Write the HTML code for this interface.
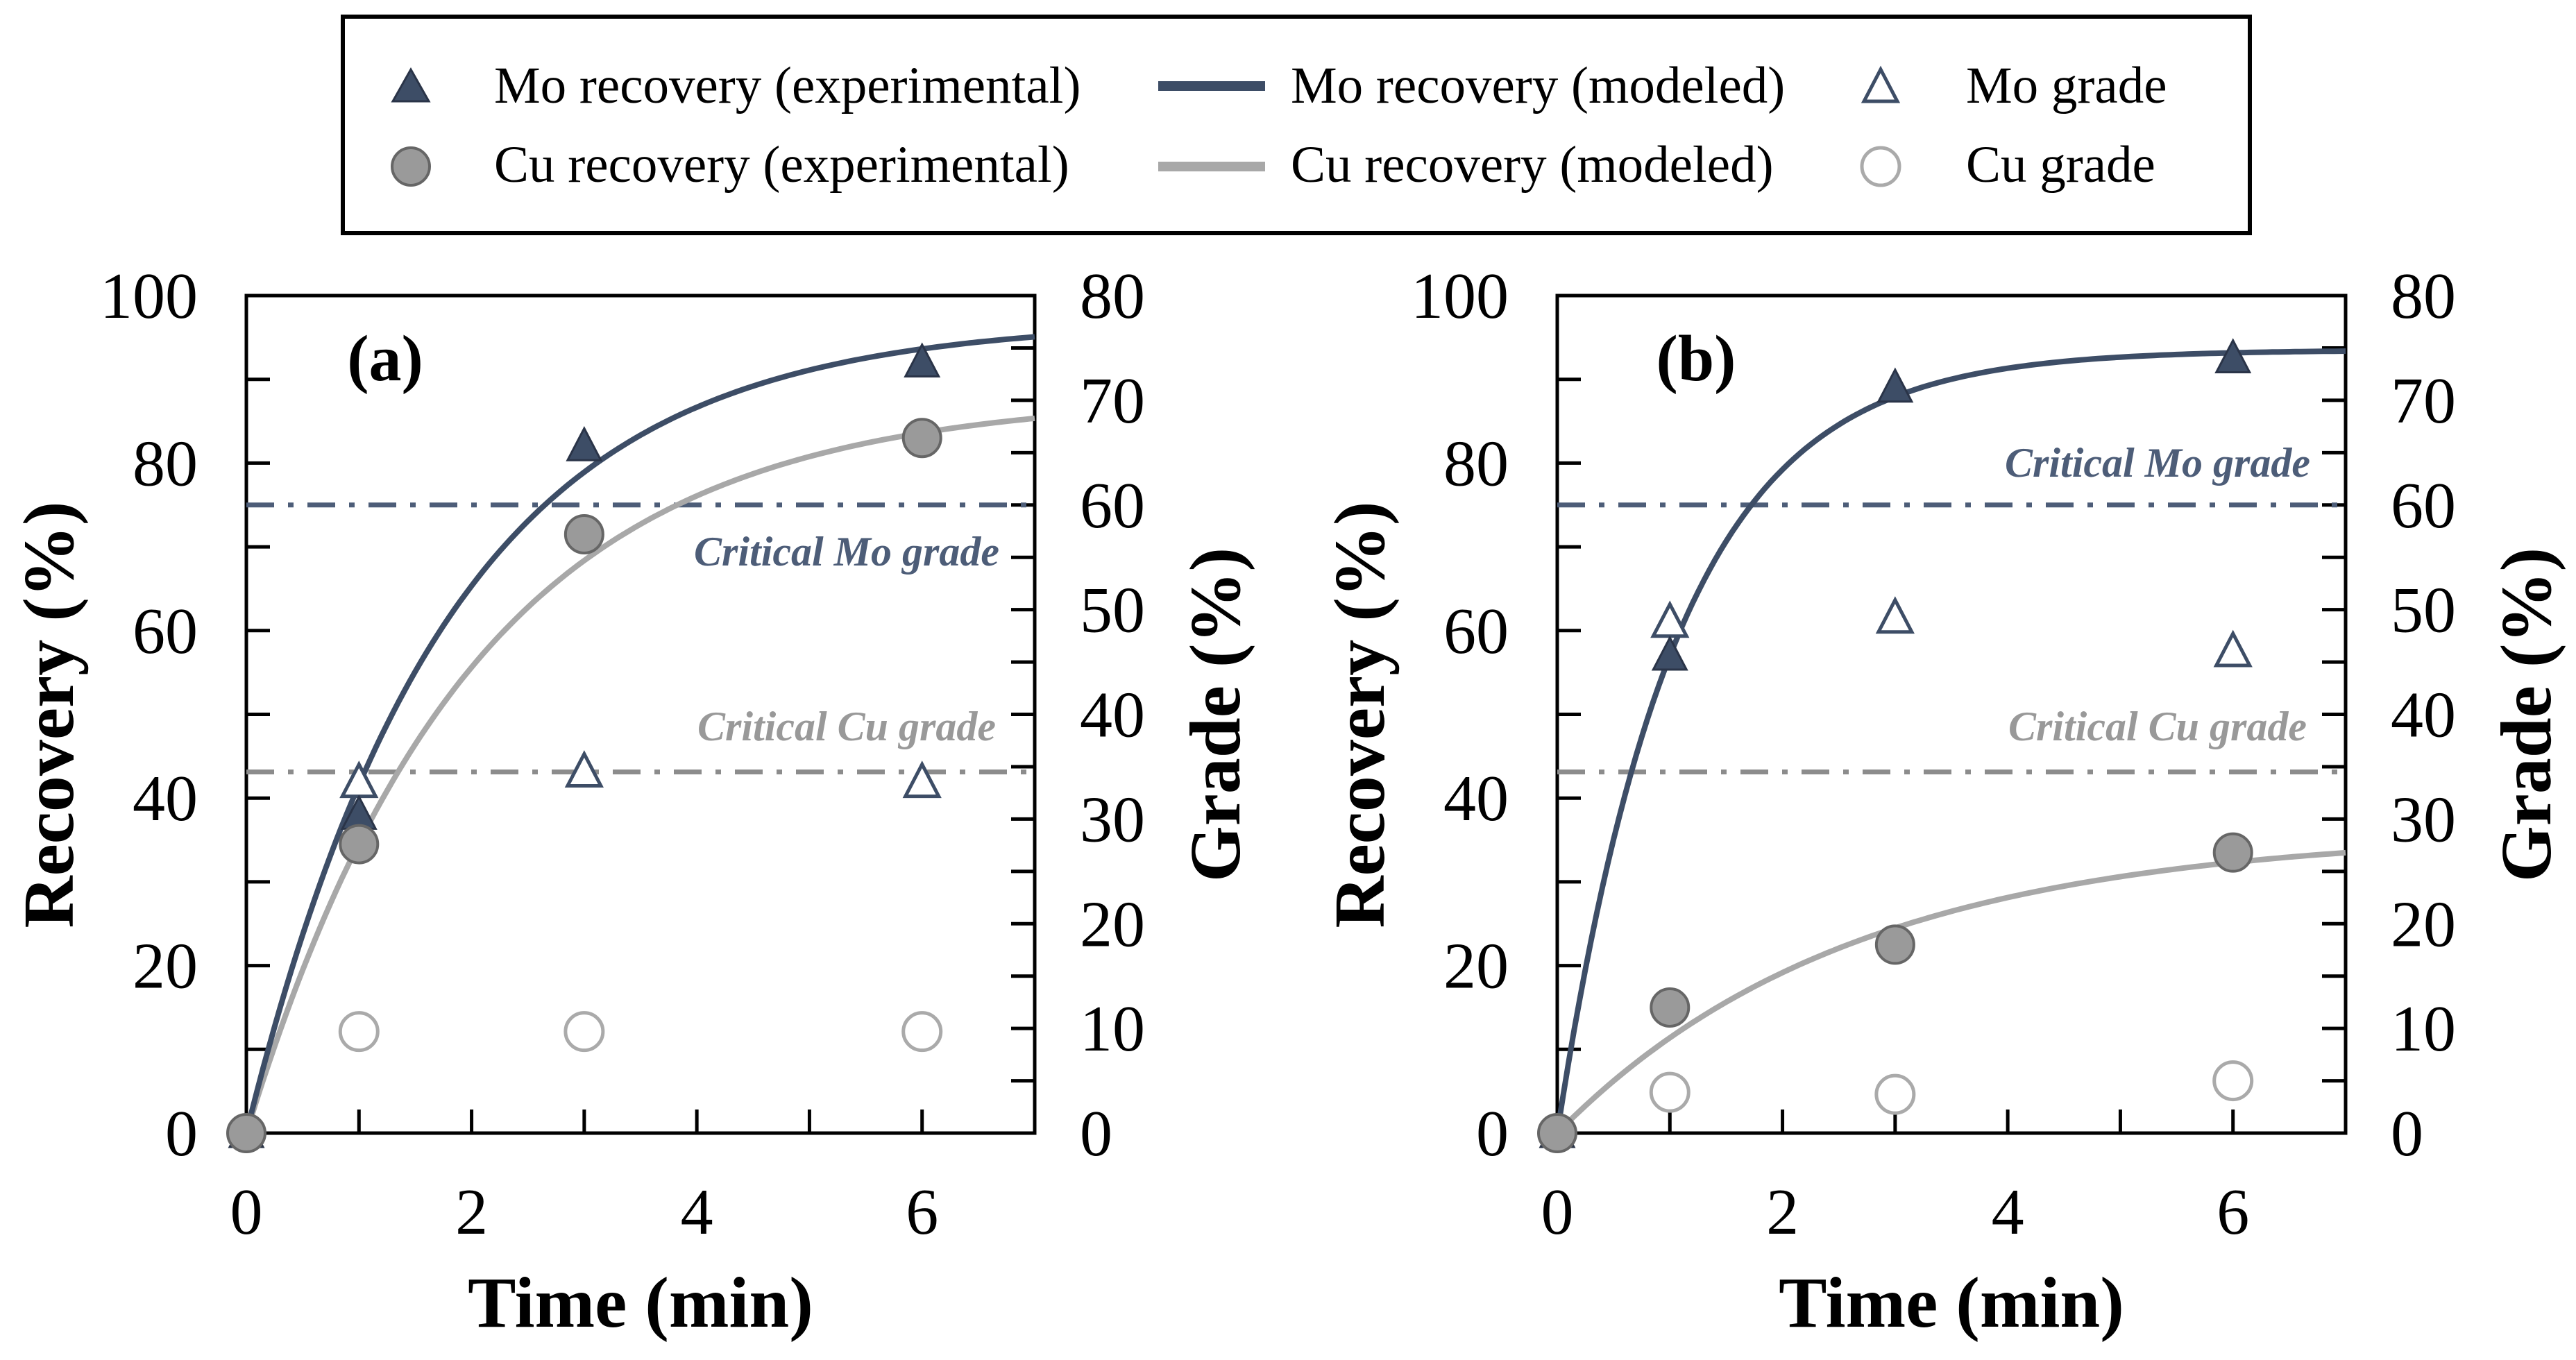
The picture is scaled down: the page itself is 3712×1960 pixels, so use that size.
<!DOCTYPE html>
<html><head><meta charset="utf-8"><style>
html,body{margin:0;padding:0;background:#fff;}
svg{display:block;font-family:"Liberation Serif",serif;}
</style></head><body>
<svg id="chart" width="3712" height="1960" viewBox="0 0 3712 1960" xmlns="http://www.w3.org/2000/svg">
<g>
  <rect x="494" y="24" width="2748" height="312" fill="#fff" stroke="#000" stroke-width="6"/>
  <g>
    <polygon points="592,100 566,146 618,146" fill="#3d4d66" stroke="#2a3448" stroke-width="3"/>
    <text x="712" y="148" font-size="75">Mo recovery  (experimental)</text>
  </g>
  <g>
    <circle cx="592" cy="240" r="27" fill="#9a9a9a" stroke="#666" stroke-width="4"/>
    <text x="712" y="262" font-size="75">Cu recovery  (experimental)</text>
  </g>
  <g>
    <line x1="1669" y1="124" x2="1823" y2="124" stroke="#3d4d66" stroke-width="14"/>
    <text x="1860" y="148" font-size="75">Mo recovery  (modeled)</text>
  </g>
  <g>
    <line x1="1669" y1="240" x2="1823" y2="240" stroke="#a8a8a8" stroke-width="14"/>
    <text x="1860" y="262" font-size="75">Cu recovery  (modeled)</text>
  </g>
  <g>
    <polygon points="2710,100 2686,146 2734,146" fill="#fff" stroke="#3d4d66" stroke-width="5"/>
    <text x="2833" y="148" font-size="75">Mo grade</text>
  </g>
  <g>
    <circle cx="2710" cy="240" r="27" fill="#fff" stroke="#aaa" stroke-width="5"/>
    <text x="2833" y="262" font-size="75">Cu grade</text>
  </g>
</g>
<g id="panelA"></g>
<g id="panelB"></g>
</svg>
<script>
// Panel (a) data
const timesA = [0, 1, 3, 6];
const moRecA = [0, 38, 82, 92];
const cuRecA = [0, 34.5, 71.5, 83];
const gradeTimesA = [1, 3, 6];
const moGradeA = [33.5, 34.5, 33.5];
const cuGradeA = [9.7, 9.7, 9.7];
const moModelA = [97, 0.56];   // [Rmax, k]
const cuModelA = [88, 0.5];
const critA = [60, 34.5];      // [Mo, Cu] critical grade
// Panel (b) data
const timesB = [0, 1, 3, 6];
const moRecB = [0, 57, 89, 92.5];
const cuRecB = [0, 15, 22.5, 33.5];
const gradeTimesB = [1, 3, 6];
const moGradeB = [48.8, 49.2, 46];
const cuGradeB = [3.9, 3.7, 5];
const moModelB = [93.5, 0.94];
const cuModelB = [36, 0.38];
const critB = [60, 34.5];
// Axis ticks
const xTicks = [0, 2, 4, 6];
const leftTicks = [0, 20, 40, 60, 80, 100];
const rightTicks = [0, 10, 20, 30, 40, 50, 60, 70, 80];

const NS = "http://www.w3.org/2000/svg";
const MO = "#3d4d66", CU = "#a8a8a8";
function mk(parent, tag, attrs, text) {
  const e = document.createElementNS(NS, tag);
  for (const k in attrs) e.setAttribute(k, attrs[k]);
  if (text !== undefined) e.textContent = text;
  parent.appendChild(e);
  return e;
}

function panel(g, L, label, d, critLabelPos) {
  const R = L + 1136, T = 426, B = 1633;
  const xS = t => L + (t / 7) * (R - L);
  const yL = v => B - (v / 100) * (B - T);
  const yR = v => B - (v / 80) * (B - T);
  const fr = mk(g, "rect", {x: L, y: T, width: R - L, height: B - T, fill: "none", stroke: "#000", "stroke-width": 5});
  
  
  for (let t = 1; t <= 6; t++) {
    const tk = mk(g, "line", {x1: xS(t), x2: xS(t), y1: B, y2: B - 34, stroke: "#000", "stroke-width": 5});
    
    
  }
  xTicks.forEach(t => {
    const tl = mk(g, "text", {x: xS(t), y: 1778, "font-size": 94, "text-anchor": "middle"}, String(t));
    
    
  });
  for (let v = 10; v < 100; v += 10) {
    const tk = mk(g, "line", {x1: L, x2: L + 34, y1: yL(v), y2: yL(v), stroke: "#000", "stroke-width": 5});
    
    
  }
  leftTicks.forEach(v => {
    const tl = mk(g, "text", {x: L - 70, y: yL(v) + 32, "font-size": 94, "text-anchor": "end"}, String(v));
    
    
  });
  for (let v = 5; v < 80; v += 5) {
    const tk = mk(g, "line", {x1: R, x2: R - 34, y1: yR(v), y2: yR(v), stroke: "#000", "stroke-width": 5});
    
    
  }
  rightTicks.forEach(v => {
    const tl = mk(g, "text", {x: R + 65, y: yR(v) + 32, "font-size": 94, "text-anchor": "start"}, String(v));
    
    
  });
  const xt = mk(g, "text", {x: (L + R) / 2, y: 1912, "font-size": 104, "font-weight": "bold", "text-anchor": "middle"}, "Time  (min)");
  
  
  const yt = mk(g, "text", {x: 0, y: 0, "font-size": 104, "font-weight": "bold", "text-anchor": "middle", transform: `translate(${L - 250},1030) rotate(-90)`}, "Recovery  (%)");
  
  
  const gt = mk(g, "text", {x: 0, y: 0, "font-size": 104, "font-weight": "bold", "text-anchor": "middle", transform: `translate(${R + 295},1030) rotate(-90)`}, "Grade  (%)");
  
  
  const pl = mk(g, "text", {x: L + 200, y: 548, "font-size": 94, "font-weight": "bold", "text-anchor": "middle"}, label);
  
  
  const cm = mk(g, "line", {x1: L, x2: R, y1: yR(d.crit[0]), y2: yR(d.crit[0]), stroke: "#4d5d78", "stroke-width": 7, "stroke-dasharray": "40 20 8 20"});
  
  
  const cc = mk(g, "line", {x1: L, x2: R, y1: yR(d.crit[1]), y2: yR(d.crit[1]), stroke: "#8c8c8c", "stroke-width": 7, "stroke-dasharray": "40 20 8 20"});
  
  
  const cml = mk(g, "text", {x: L + critLabelPos[0], y: critLabelPos[1], "font-size": 60, "font-style": "italic", "font-weight": "bold", fill: "#4d5d78", "text-anchor": "middle"}, "Critical Mo grade");
  
  
  const ccl = mk(g, "text", {x: L + critLabelPos[0], y: critLabelPos[2], "font-size": 60, "font-style": "italic", "font-weight": "bold", fill: "#999", "text-anchor": "middle"}, "Critical Cu grade");
  
  
  function curve(p, col, name) {
    let s = "";
    for (let i = 0; i <= 140; i++) {
      const t = i * 7 / 140;
      const v = p[0] * (1 - Math.exp(-p[1] * t));
      s += (i ? "L" : "M") + xS(t).toFixed(1) + "," + yL(v).toFixed(1);
    }
    const c = mk(g, "path", {d: s, fill: "none", stroke: col, "stroke-width": 8});
    
    
  }
  curve(d.cuModel, CU, 'cu-recovery-model-line');
  curve(d.moModel, MO, 'mo-recovery-model-line');
  d.gt.forEach((t, i) => {
    const c = mk(g, "circle", {cx: xS(t), cy: yR(d.cuGrade[i]), r: 27, fill: "#fff", stroke: "#aaa", "stroke-width": 5});
    
    
  });
  d.gt.forEach((t, i) => {
    const x = xS(t), y = yR(d.moGrade[i]);
    const p = mk(g, "polygon", {points: `${x},${y - 26} ${x - 24},${y + 20} ${x + 24},${y + 20}`, fill: "#fff", stroke: MO, "stroke-width": 5});
    
    
  });
  d.t.forEach((t, i) => {
    const x = xS(t), y = yL(d.moRec[i]);
    const p = mk(g, "polygon", {points: `${x},${y - 26} ${x - 24},${y + 20} ${x + 24},${y + 20}`, fill: MO, stroke: "#2a3448", "stroke-width": 3});
    
    
  });
  d.t.forEach((t, i) => {
    const c = mk(g, "circle", {cx: xS(t), cy: yL(d.cuRec[i]), r: 27, fill: "#9a9a9a", stroke: "#666", "stroke-width": 4});
    
    
  });
}

panel(document.getElementById("panelA"), 355, "(a)",
  {t: timesA, moRec: moRecA, cuRec: cuRecA, gt: gradeTimesA, moGrade: moGradeA, cuGrade: cuGradeA, moModel: moModelA, cuModel: cuModelA, crit: critA},
  [865, 815, 1067]);
panel(document.getElementById("panelB"), 2244, "(b)",
  {t: timesB, moRec: moRecB, cuRec: cuRecB, gt: gradeTimesB, moGrade: moGradeB, cuGrade: cuGradeB, moModel: moModelB, cuModel: cuModelB, crit: critB},
  [865, 687, 1067]);
</script>
</body></html>
